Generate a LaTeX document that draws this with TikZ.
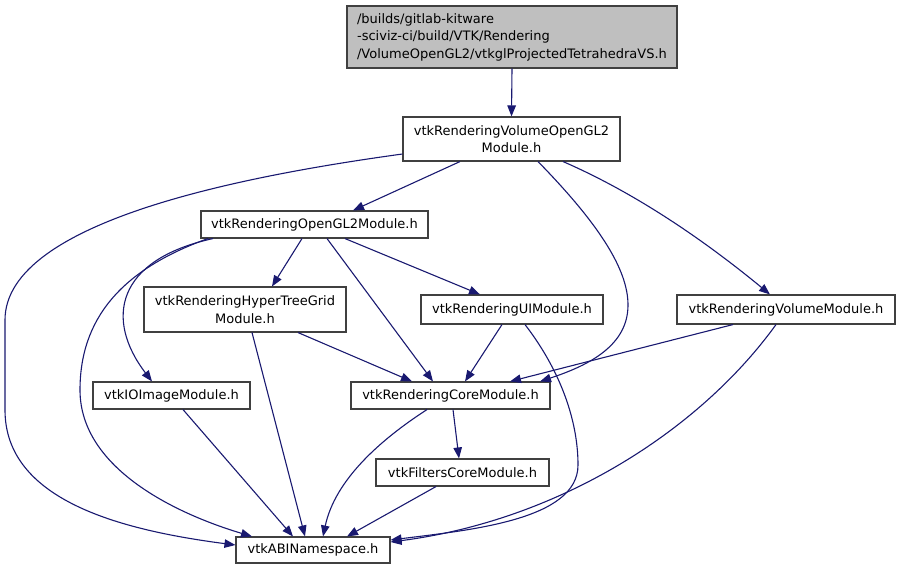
\documentclass[tikz,border=0pt]{standalone}
\usepackage{fontspec}
\setmainfont{DejaVu Sans}
\usetikzlibrary{arrows.meta,calc}
\definecolor{edgeblue}{HTML}{191970}
\definecolor{boxline}{HTML}{404040}
\definecolor{mainfill}{HTML}{BFBFBF}
\tikzset{
  box/.style={draw=boxline, line width=1.1pt, fill=white, rectangle, inner sep=0pt,
    font=\fontsize{13}{17.5}\selectfont, align=center},
  mainbox/.style={box, fill=mainfill, align=left},
  dep/.style={draw=edgeblue, line width=1.1pt, -{Triangle[length=11pt,width=8.5pt]}}
}
\begin{document}
\begin{tikzpicture}[x=1pt,y=-1pt]
\useasboundingbox (0,0) rectangle (901,570);
% nodes
\node[mainbox, minimum width=330pt, minimum height=62pt] (top) at (512,37)
  {/builds/gitlab-kitware\\-sciviz-ci/build/VTK/Rendering\\/VolumeOpenGL2/vtkglProjectedTetrahedraVS.h};
\node[box, minimum width=217pt, minimum height=44pt] (vologl) at (511.5,139)
  {vtkRenderingVolumeOpenGL2\\Module.h};
\node[box, minimum width=227pt, minimum height=27pt] (ogl) at (314.5,224.5)
  {vtkRenderingOpenGL2Module.h};
\node[box, minimum width=202pt, minimum height=45pt] (htg) at (245,309.5)
  {vtkRenderingHyperTreeGrid\\Module.h};
\node[box, minimum width=182pt, minimum height=29pt] (ui) at (512,309.5)
  {vtkRenderingUIModule.h};
\node[box, minimum width=218pt, minimum height=29pt] (vol) at (786,309.5)
  {vtkRenderingVolumeModule.h};
\node[box, minimum width=157pt, minimum height=27pt] (io) at (171.5,395.5)
  {vtkIOImageModule.h};
\node[box, minimum width=199pt, minimum height=27pt] (core) at (450.5,395.5)
  {vtkRenderingCoreModule.h};
\node[box, minimum width=173pt, minimum height=27pt] (filt) at (462.5,472.5)
  {vtkFiltersCoreModule.h};
\node[box, minimum width=154pt, minimum height=26pt] (abi) at (313,550)
  {vtkABINamespace.h};
% edges
\draw[dep] (top.south) -- (vologl.north);
\draw[dep] ($(vologl.south)+(-51.5,0)$) -- ($(ogl.north)+(38.5,0)$);
\draw[dep] ($(vologl.west)+(0,15)$) .. controls (250,175) and (5,220) .. (5,320)
  -- (5,410) .. controls (5,500) and (120,530) .. ($(abi.west)+(0,-5)$);
\draw[dep] ($(vologl.south)+(26.5,0)$) .. controls (600,225) and (628,270) .. (628,305)
  .. controls (628,345) and (590,365) .. ($(core.north)+(89.5,0)$);
\draw[dep] ($(vologl.south)+(51.5,0)$) .. controls (640,195) and (710,245) .. ($(vol.north)+(-16,0)$);
\draw[dep] ($(ogl.south)+(-12.5,0)$) -- ($(htg.north)+(27,0)$);
\draw[dep] ($(ogl.south)+(-101.5,0)$) .. controls (115,260) and (105,320) .. ($(io.north)+(-19.5,0)$);
\draw[dep] ($(ogl.south)+(-106.5,0)$) .. controls (120,270) and (80,320) .. (80,390)
  .. controls (80,470) and (180,515) .. ($(abi.north)+(-61,0)$);
\draw[dep] ($(ogl.south)+(12.5,0)$) -- ($(core.north)+(-17.5,0)$);
\draw[dep] ($(ogl.south)+(30.5,0)$) -- ($(ui.north)+(-32,0)$);
\draw[dep] ($(htg.south)+(53,0)$) -- ($(core.north)+(-38.5,0)$);
\draw[dep] ($(htg.south)+(7,0)$) -- ($(abi.north)+(-8,0)$);
\draw[dep] ($(ui.south)+(-10,0)$) -- ($(core.north)+(14.5,0)$);
\draw[dep] ($(ui.south)+(13,0)$) .. controls (560,370) and (578,420) .. (578,465)
  .. controls (578,520) and (470,530) .. ($(abi.east)+(0,-10)$);
\draw[dep] ($(vol.south)+(-53,0)$) -- ($(core.north)+(59.5,0)$);
\draw[dep] ($(vol.south)+(-10,0)$) .. controls (700,430) and (560,520) .. ($(abi.east)+(0,-8)$);
\draw[dep] ($(io.south)+(11.5,0)$) -- ($(abi.north)+(-20,0)$);
\draw[dep] ($(core.south)+(-23.5,0)$) .. controls (380,440) and (335,480) .. ($(abi.north)+(10,0)$);
\draw[dep] ($(core.south)+(2.5,0)$) -- ($(filt.north)+(-3.5,0)$);
\draw[dep] ($(filt.south)+(-26.5,0)$) -- ($(abi.north)+(34,0)$);
\end{tikzpicture}
\end{document}
